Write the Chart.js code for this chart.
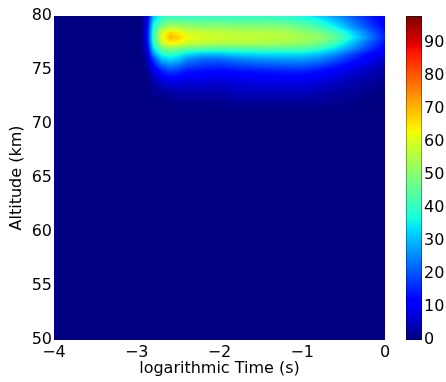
<!DOCTYPE html>
<html>
<head>
<meta charset="utf-8">
<script src="https://cdn.jsdelivr.net/npm/chart.js@4.4.0/dist/chart.umd.min.js"></script>
<style>
  html, body { margin: 0; padding: 0; background: #fff; }
  #wrap { width: 446px; height: 382px; }
</style>
</head>
<body>
<div id="wrap"><canvas id="heat"></canvas></div>
<script>
// grid columns: log10 of time (s)
const logTimes = [-4, -2.95, -2.88, -2.8, -2.7, -2.6, -2.5, -2.4, -2.2, -2.0, -1.8, -1.5, -1.2, -1.0, -0.8, -0.6, -0.4, -0.2, 0];
// grid rows: altitude (km)
const altitudes = [50, 71, 72, 73, 74, 75, 76, 76.5, 77, 77.5, 78, 78.5, 79, 80];

// one row of values per altitude
const alt50   = [0, 0, 0, 0, 0, 0, 0, 0, 0, 0, 0, 0, 0, 0, 0, 0, 0, 0, 0];
const alt71   = [0, 0, 0, 0, 0, 0, 0, 0, 0, 0, 0, 0, 0, 0, 0, 0, 0, 0, 0];
const alt72   = [0, 0, 0, 0, 0, 0, 1, 1, 1, 1, 2, 2, 2, 2, 2, 1, 1, 0, 0];
const alt73   = [0, 0, 0, 1, 2, 3, 4, 4, 4, 4, 5, 5, 5, 5, 4, 3, 2, 1, 0];
const alt74   = [0, 0, 0, 3, 7, 9, 9, 8, 8, 7, 8, 9, 9, 9, 8, 6, 4, 3, 1];
const alt75   = [0, 0, 1, 8, 16, 19, 18, 15, 14, 13, 14, 15, 16, 16, 14, 11, 8, 5, 3];
const alt76   = [0, 0, 3, 18, 30, 33, 31, 26, 22, 22, 24, 26, 27, 27, 25, 20, 15, 10, 6];
const alt76_5 = [0, 0, 5, 26, 38, 40, 38, 34, 31, 31, 33, 34, 34, 34, 31, 26, 19, 13, 8];
const alt77   = [0, 0, 7, 33, 46, 50, 48, 46, 44, 43, 43, 44, 44, 43, 40, 34, 26, 18, 11];
const alt77_5 = [0, 0, 9, 38, 56, 64, 62, 58, 56, 55, 55, 54, 53, 51, 48, 41, 31, 21, 13];
const alt78   = [0, 0, 10, 40, 61, 70, 68, 63, 60, 59, 58, 57, 56, 54, 52, 46, 36, 25, 15];
const alt78_5 = [0, 0, 10, 40, 59, 67, 64, 60, 58, 57, 56, 56, 55, 52, 49, 43, 33, 23, 14];
const alt79   = [0, 0, 9, 37, 50, 55, 55, 53, 52, 52, 51, 51, 50, 47, 43, 36, 27, 19, 12];
const alt80   = [0, 0, 7, 30, 38, 40, 40, 40, 40, 40, 40, 40, 39, 37, 33, 27, 21, 15, 10];
const gridRows = [alt50, alt71, alt72, alt73, alt74, alt75, alt76, alt76_5, alt77, alt77_5, alt78, alt78_5, alt79, alt80];

// tick labels
const timeTicks = [-4, -3, -2, -1, 0];
const altTicks = [50, 55, 60, 65, 70, 75, 80];
const cbTicks = [0, 10, 20, 30, 40, 50, 60, 70, 80, 90];
const cbMax = 98;

// matplotlib 'jet'
const JET_R = [[0, 0], [0.35, 0], [0.66, 1], [0.89, 1], [1, 0.5]];
const JET_G = [[0, 0], [0.125, 0], [0.375, 1], [0.64, 1], [0.91, 0], [1, 0]];
const JET_B = [[0, 0.5], [0.11, 1], [0.34, 1], [0.65, 0], [1, 0]];

function piece(pts, f) {
	for (let i = 1; i < pts.length; i++) {
		if (f <= pts[i][0]) {
			const [x0, y0] = pts[i - 1];
			const [x1, y1] = pts[i];
			return y0 + (y1 - y0) * (f - x0) / (x1 - x0);
		}
	}
	return pts[pts.length - 1][1];
}

function jet(v) {
	const f = Math.max(0, Math.min(1, v / cbMax));
	return [piece(JET_R, f), piece(JET_G, f), piece(JET_B, f)].map(c => Math.round(c * 255));
}

function locate(arr, v) {
	if (v <= arr[0]) return [0, 0];
	for (let i = 0; i < arr.length - 1; i++) {
		if (v <= arr[i + 1]) return [i, (v - arr[i]) / (arr[i + 1] - arr[i])];
	}
	return [arr.length - 2, 1];
}

// bilinear lookup in the grid
function sample(t, alt) {
	const [i, fx] = locate(logTimes, t);
	const [j, fy] = locate(altitudes, alt);
	const r0 = gridRows[j], r1 = gridRows[j + 1];
	const a = r0[i] + (r0[i + 1] - r0[i]) * fx;
	const b = r1[i] + (r1[i + 1] - r1[i]) * fx;
	return a + (b - a) * fy;
}

const heatmapPlugin = {
	id: 'heatmap',
	beforeDatasetsDraw(chart) {
		const { ctx, chartArea: area, scales } = chart;
		const xs = scales.x, ys = scales.y, cb = scales.cb;
		const w = Math.round(area.right - area.left);
		const h = Math.round(area.bottom - area.top);
		const img = ctx.createImageData(w, h);
		for (let py = 0; py < h; py++) {
			const alt = ys.getValueForPixel(area.top + py + 0.5);
			for (let px = 0; px < w; px++) {
				const t = xs.getValueForPixel(area.left + px + 0.5);
				const [r, g, b] = jet(sample(t, alt));
				const k = (py * w + px) * 4;
				img.data[k] = r;
				img.data[k + 1] = g;
				img.data[k + 2] = b;
				img.data[k + 3] = 255;
			}
		}
		ctx.putImageData(img, Math.round(area.left), Math.round(area.top));

		// colour bar, drawn along the cb scale
		const barLeft = area.right + 21;
		const barWidth = 16;
		const top = Math.round(cb.getPixelForValue(cbMax));
		const bottom = Math.round(cb.getPixelForValue(0));
		for (let py = top; py < bottom; py++) {
			const [r, g, b] = jet(cb.getValueForPixel(py + 0.5));
			ctx.fillStyle = `rgb(${r},${g},${b})`;
			ctx.fillRect(barLeft, py, barWidth, 1);
		}
		ctx.strokeStyle = 'rgba(0,0,0,0.35)';
		ctx.lineWidth = 1;
		ctx.strokeRect(barLeft + 0.5, top + 0.5, barWidth - 1, bottom - top - 1);
	}
};

function useTicks(list) {
	return scale => { scale.ticks = list.map(v => ({ value: v })); };
}

Chart.defaults.font.family = "'DejaVu Sans', sans-serif";
Chart.defaults.font.size = 16;
Chart.defaults.color = '#000';

const ctx = document.getElementById('heat').getContext('2d');
new Chart(ctx, {
	type: 'scatter',
	data: { datasets: [] },
	options: {
		responsive: true,
		maintainAspectRatio: false,
		animation: false,
		layout: { padding: { top: 16, left: 0, right: 0, bottom: 0 } },
		plugins: { legend: { display: false }, tooltip: { enabled: false } },
		scales: {
			x: {
				type: 'linear',
				min: -4,
				max: 0,
				afterBuildTicks: useTicks(timeTicks),
				afterFit: s => { s.height = 42; },
				grid: { display: false, drawTicks: false },
				border: { display: false },
				ticks: {
					padding: 3,
					autoSkip: false,
					maxRotation: 0,
					callback: v => String(v).replace('-', '\u2212')
				},
				title: {
					display: true,
					text: 'logarithmic Time (s)',
					padding: { top: 0, bottom: 4 }
				}
			},
			y: {
				type: 'linear',
				position: 'left',
				min: 50,
				max: 80,
				afterBuildTicks: useTicks(altTicks),
				afterFit: s => { s.width = 54; },
				grid: { display: false, drawTicks: false },
				border: { display: false },
				ticks: { padding: 2 },
				title: {
					display: true,
					text: 'Altitude (km)',
					padding: { top: 7, bottom: 0 }
				}
			},
			cb: {
				type: 'linear',
				position: 'right',
				min: 0,
				max: cbMax,
				afterBuildTicks: useTicks(cbTicks),
				afterFit: s => { s.width = 61; },
				// invisible tick marks push the labels past the bar
				grid: { display: true, drawOnChartArea: false, drawTicks: true, tickLength: 37, color: 'rgba(0,0,0,0)' },
				border: { display: false },
				ticks: { padding: 2 }
			}
		}
	},
	plugins: [heatmapPlugin]
});
</script>
</body>
</html>
